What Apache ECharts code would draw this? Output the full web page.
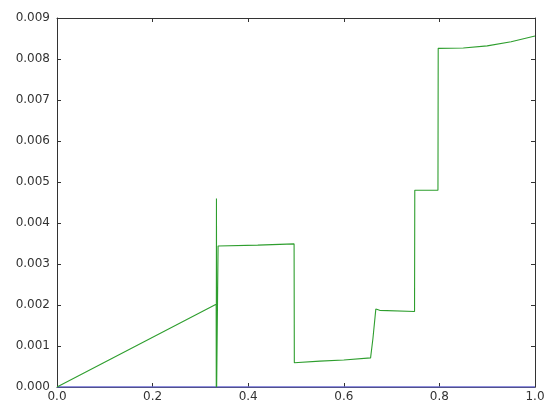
<!DOCTYPE html>
<html>
<head>
<meta charset="utf-8">
<script src="https://cdn.jsdelivr.net/npm/echarts@6/dist/echarts.min.js"></script>
<style>
  html, body { margin: 0; padding: 0; background: #fff; }
  #chart { width: 555px; height: 406px; }
</style>
</head>
<body>
<div id="chart"></div>
<script>
// Sample positions and values of the measured curve
const xs = [0.0, 0.333, 0.3332, 0.3336, 0.334, 0.337, 0.42, 0.496, 0.4965,
            0.55, 0.60, 0.656, 0.661, 0.667, 0.675, 0.748, 0.7485,
            0.797, 0.7975, 0.85, 0.90, 0.95, 1.0];
const greenValues = [0.0, 0.00202, 0.0, 0.0046, 0.0, 0.00344, 0.00346, 0.00349, 0.00059,
                     0.00063, 0.00066, 0.00071, 0.00119, 0.00190, 0.00187, 0.00184, 0.00480,
                     0.00480, 0.00826, 0.00827, 0.00832, 0.00842, 0.00856];
// Baseline series
const baseX = [0.0, 1.0];
const blueValues = [0.0, 0.0];

const xTicks = [0.0, 0.2, 0.4, 0.6, 0.8, 1.0];
const yTicks = [0.000, 0.001, 0.002, 0.003, 0.004, 0.005, 0.006, 0.007, 0.008, 0.009];

const chart = echarts.init(document.getElementById('chart'));

const frameLine = { show: true, onZero: false, lineStyle: { color: '#333', width: 1 } };
const innerTick = { show: true, inside: true, length: 4, lineStyle: { color: '#333' } };
const font = { fontFamily: 'DejaVu Sans', fontSize: 12, color: '#333' };

chart.setOption({
  animation: false,
  grid: { left: 57, right: 20, top: 18, bottom: 19, containLabel: false },
  xAxis: [
    {
      type: 'value', min: xTicks[0], max: xTicks[xTicks.length - 1], interval: 0.2,
      position: 'bottom',
      axisLine: frameLine, axisTick: innerTick, splitLine: { show: false },
      axisLabel: Object.assign({ margin: 4, formatter: v => v.toFixed(1) }, font)
    },
    {
      type: 'value', min: 0, max: 1, interval: 0.2, position: 'top',
      axisLine: frameLine, axisTick: innerTick, splitLine: { show: false },
      axisLabel: { show: false }
    }
  ],
  yAxis: [
    {
      type: 'value', min: yTicks[0], max: yTicks[yTicks.length - 1], interval: 0.001,
      position: 'left',
      axisLine: frameLine, axisTick: innerTick, splitLine: { show: false },
      axisLabel: Object.assign({ margin: 7, formatter: v => v.toFixed(3) }, font)
    },
    {
      type: 'value', min: 0, max: 0.009, interval: 0.001, position: 'right',
      axisLine: frameLine, axisTick: innerTick, splitLine: { show: false },
      axisLabel: { show: false }
    }
  ],
  series: [
    {
      type: 'line', showSymbol: false, symbol: 'none',
      data: baseX.map((x, i) => [x, blueValues[i]]),
      lineStyle: { color: '#6a6ad2', width: 1.5 },
      z: 3
    },
    {
      type: 'line', showSymbol: false, symbol: 'none',
      data: xs.map((x, i) => [x, greenValues[i]]),
      lineStyle: { color: '#2e9e2e', width: 1.1 },
      z: 4
    }
  ]
});
</script>
</body>
</html>
